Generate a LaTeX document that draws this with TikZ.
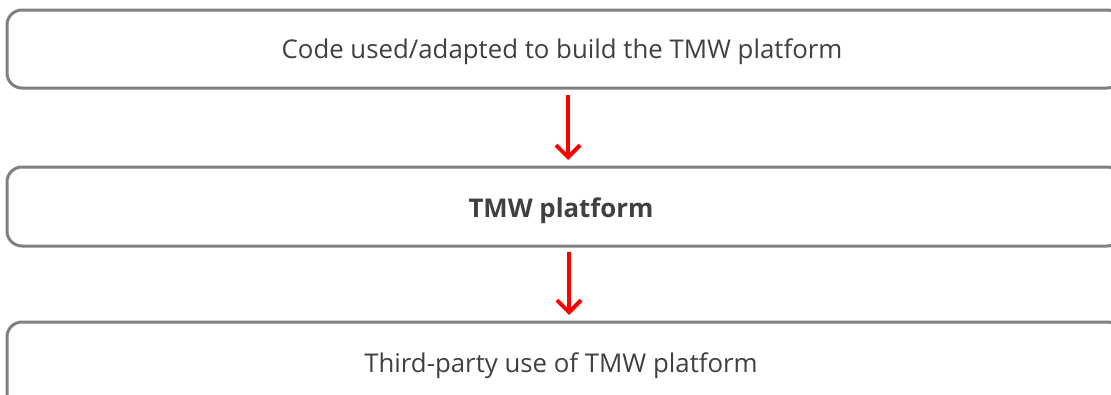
\documentclass[tikz,border=0pt]{standalone}
\usepackage{fontspec}
\setmainfont{Open Sans}
\usetikzlibrary{arrows.meta}
\definecolor{boxgray}{HTML}{808080}
\definecolor{textgray}{HTML}{404040}
\definecolor{arrowred}{HTML}{FF0000}
\tikzset{
  stagebox/.style={draw=boxgray, line width=3pt, rounded corners=15pt},
  stagetext/.style={text=textgray, font=\fontsize{25.8}{30}\selectfont, anchor=base},
  flowarrow/.style={draw=arrowred, line width=4pt,
    -{Straight Barb[length=12pt, width=24pt, line width=4pt]}}
}
\begin{document}
\begin{tikzpicture}[x=1pt, y=-1pt]
  \useasboundingbox (0,0) rectangle (1111,394);
  % stage frames (right side runs past the page edge)
  \begin{scope}
    \clip (0,0) rectangle (1111,394);
    \draw[stagebox] (7,10) rectangle (1122,88);
    \draw[stagebox] (7,167) rectangle (1122,246);
    \draw[stagebox] (7,322) rectangle (1122,410);
  \end{scope}
  % labels
  \node[stagetext] (code) at (562,58) {Code used/adapted to build the TMW platform};
  \node[stagetext, font=\fontsize{25.8}{30}\selectfont\bfseries] (tmw) at (561,217) {TMW platform};
  \node[stagetext] (third) at (561,372) {Third-party use of TMW platform};
  % anchors for the connectors
  \coordinate (a1s) at (568,95);
  \coordinate (a1e) at (568,160);
  \coordinate (a2s) at (569,252);
  \coordinate (a2e) at (569,315);
  \draw[flowarrow] (a1s) -- (a1e);
  \draw[flowarrow] (a2s) -- (a2e);
\end{tikzpicture}
\end{document}
